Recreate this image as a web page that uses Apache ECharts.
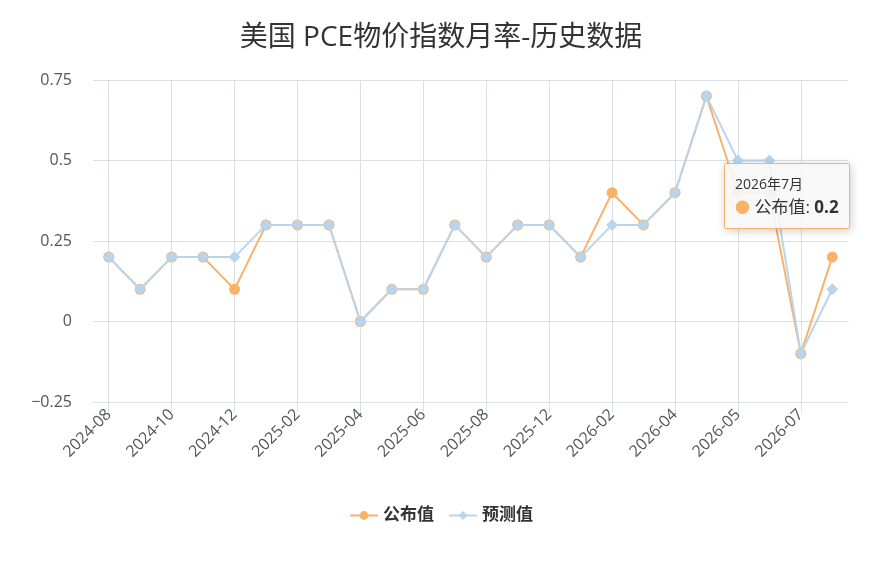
<!DOCTYPE html>
<html>
<head>
<meta charset="utf-8">
<script src="https://cdn.jsdelivr.net/npm/echarts@6/dist/echarts.min.js"></script>
<style>
  html, body { margin: 0; padding: 0; background: #fff; }
  #chart { width: 882px; height: 561px; }
</style>
</head>
<body>
<div id="chart"></div>
<script>
    // 月份（横轴）
    var months = [
        '2024-08', '2024-09', '2024-10', '2024-11', '2024-12', '2025-01',
        '2025-02', '2025-03', '2025-04', '2025-05', '2025-06', '2025-07',
        '2025-08', '2025-10', '2025-12', '2026-01', '2026-02', '2026-03',
        '2026-04', '2026-04', '2026-05', '2026-06', '2026-07', '2026-07'
    ];
    // 公布值
    var actual = [0.2, 0.1, 0.2, 0.2, 0.1, 0.3, 0.3, 0.3, 0, 0.1, 0.1, 0.3,
                  0.2, 0.3, 0.3, 0.2, 0.4, 0.3, 0.4, 0.7, 0.4, 0.4, -0.1, 0.2];
    // 预测值
    var forecast = [0.2, 0.1, 0.2, 0.2, 0.2, 0.3, 0.3, 0.3, 0, 0.1, 0.1, 0.3,
                    0.2, 0.3, 0.3, 0.2, 0.3, 0.3, 0.4, 0.7, 0.5, 0.5, -0.1, 0.1];
    // 纵轴刻度
    var yMin = -0.25, yMax = 0.75, yStep = 0.25;

    var font = "'Open Sans', 'Noto Sans CJK SC', sans-serif";
    var gridColor = '#dcdfe5';
    var orange = '#f8b26a';
    var blue = '#b8d5ef';

    var chart = echarts.init(document.getElementById('chart'));

    var option = {
        animation: false,
        textStyle: { fontFamily: font },
        title: {
            text: '美国 PCE物价指数月率-历史数据',
            left: 'center',
            top: 19,
            textStyle: { fontSize: 28, fontWeight: 'normal', color: '#333', fontFamily: font }
        },
        grid: { left: 93, right: 34, top: 80, bottom: 159 },
        tooltip: {
            trigger: 'item',
            alwaysShowContent: true,
            transitionDuration: 0,
            backgroundColor: 'rgba(247,247,247,0.9)',
            borderColor: orange,
            borderWidth: 1,
            borderRadius: 2,
            padding: [10, 10, 8, 10],
            position: function () { return [724, 163]; },
            formatter: function (p) {
                var parts = months[p.dataIndex].split('-');
                var title = parts[0] + '年' + parseInt(parts[1], 10) + '月';
                return '<div style="font-size:14px;color:#333;line-height:20px;font-family:' + font + '">' + title + '</div>' +
                    '<div style="font-size:17px;color:#333;line-height:26px;font-family:' + font + '">' +
                    '<span style="color:' + p.color + ';font-size:15px">●</span> ' +
                    p.seriesName + ': <b>' + p.value + '</b></div>';
            }
        },
        legend: {
            bottom: 32,
            left: 'center',
            itemWidth: 28,
            itemHeight: 11,
            itemGap: 14,
            textStyle: { fontSize: 17, fontWeight: 'bold', color: '#333' },
            data: ['公布值', '预测值']
        },
        xAxis: [{
            type: 'category',
            data: months,
            boundaryGap: true,
            axisLine: { lineStyle: { color: gridColor } },
            axisTick: { show: false },
            splitLine: { show: false },
            axisLabel: {
                interval: 1,
                rotate: 45,
                fontSize: 16,
                color: '#555',
                margin: 10
            }
        }, {
            type: 'category',
            data: months,
            boundaryGap: true,
            position: 'top',
            axisLine: { show: false },
            axisLabel: { show: false },
            axisTick: {
                show: true,
                inside: true,
                alignWithLabel: true,
                interval: 1,
                length: 332,
                lineStyle: { color: gridColor }
            },
            splitLine: { show: false }
        }],
        yAxis: {
            type: 'value',
            min: yMin,
            max: yMax,
            interval: yStep,
            axisLine: { show: false },
            axisTick: { show: false },
            splitLine: { lineStyle: { color: gridColor } },
            axisLabel: {
                fontSize: 16,
                color: '#555',
                margin: 21,
                formatter: function (v) {
                    return String(v).replace('-', '\u2212');
                }
            }
        },
        series: [{
            name: '公布值',
            type: 'line',
            data: actual,
            symbol: 'circle',
            symbolSize: 11,
            showAllSymbol: true,
            itemStyle: { color: orange },
            lineStyle: { width: 2, color: orange },
            z: 2
        }, {
            name: '预测值',
            type: 'line',
            data: forecast,
            symbol: 'diamond',
            symbolSize: 12,
            showAllSymbol: true,
            itemStyle: { color: blue },
            lineStyle: { width: 2, color: blue },
            z: 3
        }]
    };

    chart.setOption(option);
    chart.dispatchAction({ type: 'showTip', seriesIndex: 0, dataIndex: 23 });
</script>
</body>
</html>
